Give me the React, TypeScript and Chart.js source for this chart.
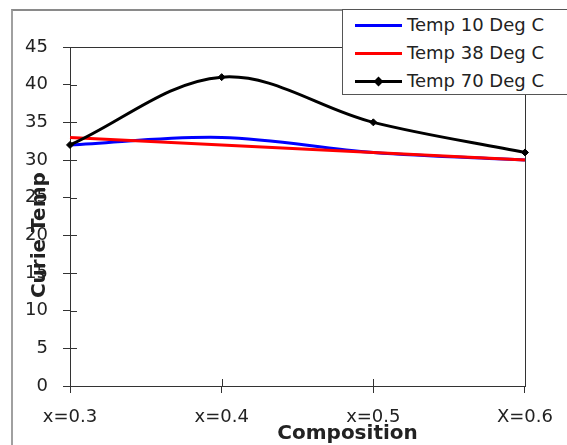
import { useEffect, useRef } from "react";
import { Chart, registerables } from "chart.js";

Chart.register(...registerables);

const categories = ["x=0.3", "x=0.4", "x=0.5", "X=0.6"];
const temp10 = [32, 33, 31, 30];
const temp38 = [33, 32, 31, 30];
const temp70 = [32, 41, 35, 31];
const seriesLabels = ["Temp 10 Deg C", "Temp 38 Deg C", "Temp 70 Deg C"];
const seriesColors = ["#0000ff", "#ff0000", "#000000"];
const yMin = 0;
const yMax = 45;
const yStep = 5;
const xTitle = "Composition";
const yTitle = "Curie Temp";

const FONT = "'DejaVu Sans', 'Liberation Sans', sans-serif";
const TEXT = "#222";
const AXIS = "#333";

const decor = {
  id: "decor",
  beforeDatasetsDraw(chart: any) {
    const { ctx, chartArea, scales } = chart;
    const { left, right, top, bottom } = chartArea;
    const x = scales.x;
    const y = scales.y;
    ctx.save();
    ctx.strokeStyle = AXIS;
    ctx.lineWidth = 1;
    ctx.strokeRect(Math.round(left) + 0.5, Math.round(top) + 0.5, Math.round(right - left), Math.round(bottom - top));
    ctx.beginPath();
    y.ticks.forEach((_t: any, i: number) => {
      const py = Math.round(y.getPixelForTick(i)) + 0.5;
      ctx.moveTo(left, py);
      ctx.lineTo(left + 7, py);
    });
    x.ticks.forEach((_t: any, i: number) => {
      const px = Math.round(x.getPixelForTick(i)) + 0.5;
      ctx.moveTo(px, bottom);
      ctx.lineTo(px, bottom - 7);
    });
    ctx.stroke();
    ctx.restore();
  },
  afterDraw(chart: any) {
    const { ctx, chartArea } = chart;
    const { left, right, top, bottom } = chartArea;
    ctx.save();
    ctx.fillStyle = TEXT;
    ctx.font = `bold 20px ${FONT}`;
    ctx.textAlign = "center";
    ctx.textBaseline = "alphabetic";
    ctx.fillText(xTitle, left + (right - left) * 0.61, bottom + 53);
    ctx.translate(left - 25, top + (bottom - top) * 0.555);
    ctx.rotate(-Math.PI / 2);
    ctx.fillText(yTitle, 0, 0);
    ctx.restore();
  },
};

export default function App() {
  const ref = useRef<HTMLCanvasElement | null>(null);

  useEffect(() => {
    if (!ref.current) return;
    Chart.defaults.font.family = FONT;
    const chart = new Chart(ref.current, {
      type: "line",
      data: {
        labels: categories,
        datasets: [
          {
            label: seriesLabels[0],
            data: temp10,
            borderColor: seriesColors[0],
            backgroundColor: seriesColors[0],
            borderWidth: 3,
            pointRadius: 0,
            tension: 0.35,
            order: 3,
            clip: 8,
          },
          {
            label: seriesLabels[1],
            data: temp38,
            borderColor: seriesColors[1],
            backgroundColor: seriesColors[1],
            borderWidth: 3,
            pointRadius: 0,
            tension: 0.35,
            order: 2,
            clip: 8,
          },
          {
            label: seriesLabels[2],
            data: temp70,
            borderColor: seriesColors[2],
            backgroundColor: seriesColors[2],
            borderWidth: 3,
            pointRadius: 3.5,
            pointStyle: "rectRot",
            pointBorderWidth: 1,
            tension: 0.35,
            order: 1,
            clip: 8,
          },
        ],
      },
      options: {
        responsive: false,
        animation: false,
        events: [],
        layout: { padding: { left: 0, top: 47, right: 39, bottom: 0 } },
        plugins: {
          legend: { display: false },
          tooltip: { enabled: false },
          title: { display: false },
        },
        scales: {
          x: {
            type: "category",
            offset: false,
            border: { display: false },
            grid: {
              display: true,
              drawOnChartArea: false,
              drawTicks: true,
              tickLength: 7,
              color: AXIS,
              lineWidth: 1,
            },
            ticks: {
              font: { family: FONT, size: 18 },
              color: TEXT,
              padding: 14,
              maxRotation: 0,
              autoSkip: false,
            },
            afterFit: (s: any) => {
              s.height = 59;
            },
          },
          y: {
            min: yMin,
            max: yMax,
            border: { display: false },
            grid: {
              display: true,
              drawOnChartArea: false,
              drawTicks: true,
              tickLength: 7,
              color: AXIS,
              lineWidth: 1,
            },
            ticks: {
              stepSize: yStep,
              font: { family: FONT, size: 18 },
              color: TEXT,
              padding: 15,
            },
            afterFit: (s: any) => {
              s.width = 70;
            },
          },
        },
      },
      plugins: [decor],
    } as any);
    return () => chart.destroy();
  }, []);

  const rowY = [24, 52, 80];

  return (
    <div
      style={{
        position: "fixed",
        left: 0,
        top: 0,
        width: 567,
        height: 445,
        overflow: "hidden",
        background: "#fff",
      }}
    >
      <div
        style={{
          position: "absolute",
          left: 11,
          top: 9,
          width: 700,
          height: 600,
          borderLeft: "2px solid #a0a0a0",
          borderTop: "2px solid #8a8a8a",
        }}
      />
      <canvas
        ref={ref}
        width={567}
        height={445}
        style={{ position: "absolute", left: 0, top: 0 }}
      />
      <div
        style={{
          position: "absolute",
          left: 342,
          top: 9,
          width: 260,
          height: 86,
          border: "1px solid #555",
          background: "#fff",
          boxSizing: "border-box",
        }}
      >
        {seriesLabels.map((lab, i) => (
          <div key={lab}>
            <div
              style={{
                position: "absolute",
                left: 12,
                top: rowY[i] - 9 - 1.5,
                width: 47,
                height: 3,
                background: seriesColors[i],
              }}
            />
            {i === 2 && (
              <div
                style={{
                  position: "absolute",
                  left: 12 + 23.5 - 3.5,
                  top: rowY[i] - 9 - 3.5,
                  width: 7,
                  height: 7,
                  background: seriesColors[i],
                  transform: "rotate(45deg)",
                }}
              />
            )}
            <div
              style={{
                position: "absolute",
                left: 64,
                top: rowY[i] - 9 - 11,
                height: 22,
                lineHeight: "22px",
                fontFamily: FONT,
                fontSize: 18,
                color: TEXT,
                whiteSpace: "nowrap",
              }}
            >
              {lab}
            </div>
          </div>
        ))}
      </div>
    </div>
  );
}
